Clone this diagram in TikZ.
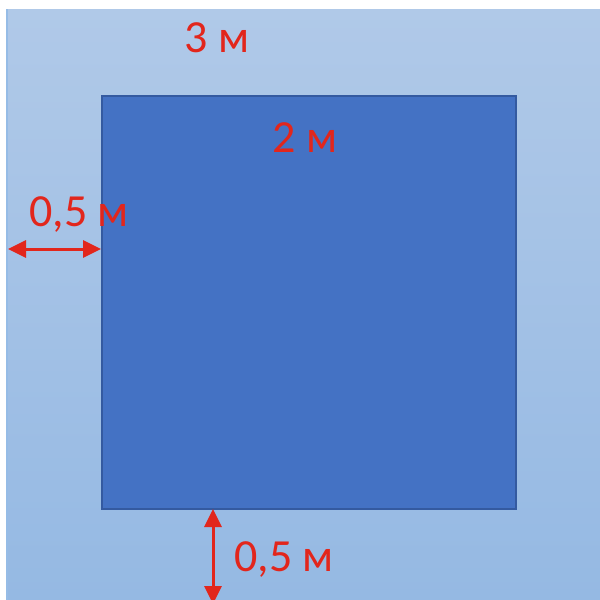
\documentclass[tikz,border=0pt]{standalone}
\usepackage{fontspec}
\setmainfont{Carlito}
\usetikzlibrary{arrows.meta}
\definecolor{bgtop}{RGB}{176,201,232}
\definecolor{bgbot}{RGB}{149,185,227}
\definecolor{edge}{RGB}{150,188,230}
\definecolor{sq}{RGB}{68,114,196}
\definecolor{sqline}{RGB}{52,90,160}
\definecolor{lbl}{RGB}{226,38,28}
\tikzset{
  lab/.style={text=lbl, font=\fontsize{46}{50}\selectfont, inner sep=0pt},
  dim/.style={draw=lbl, line width=3pt, {Triangle[length=18pt,width=17pt]}-{Triangle[length=18pt,width=17pt]}}
}
\begin{document}
\begin{tikzpicture}[x=1pt,y=-1pt]
\useasboundingbox (0,0) rectangle (600,600);
\shade[top color=bgtop, bottom color=bgbot] (6,9) rectangle (600,600);
\draw[edge, line width=2pt] (7,9) -- (7,600);
\node[draw=sqline, fill=sq, line width=2pt, minimum width=414pt, minimum height=413pt, inner sep=0pt, anchor=north west] (pool) at (101,95) {};
\node[lab] (l3) at (217,38) {3 м};
\node[lab] (l2) at (305,138) {2 м};
\node[lab] (lleft) at (79,215) {0,5 м};
\node[lab] (lbot) at (284,560) {0,5 м};
\coordinate (aL) at (8,249);
\coordinate (aR) at (pool.west |- aL);
\coordinate (bT) at (213,509);
\coordinate (bB) at (213,604);
\draw[dim] (aL) -- (aR);
\draw[dim] (bT) -- (bB);
\end{tikzpicture}
\end{document}
